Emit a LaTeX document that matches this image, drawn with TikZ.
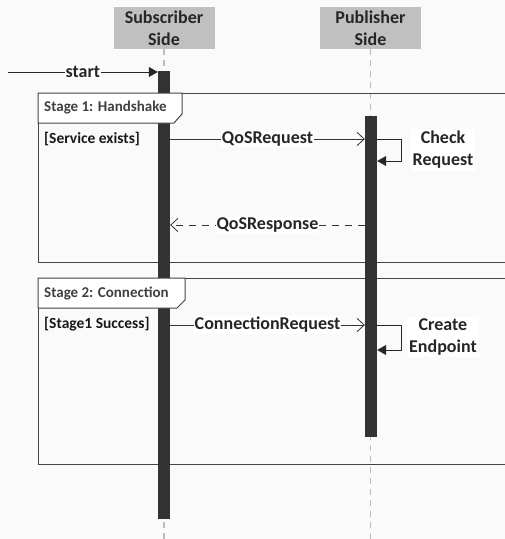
\documentclass[tikz,border=0pt]{standalone}
\usepackage{fontspec}
\setmainfont{Carlito}
\usetikzlibrary{arrows.meta}
\definecolor{bgcol}{HTML}{FAFAFA}
\definecolor{barcol}{HTML}{333333}
\definecolor{headcol}{HTML}{C0C0C0}
\definecolor{lifecol}{HTML}{BDBDBD}
\definecolor{framecol}{HTML}{444444}
\begin{document}
\begin{tikzpicture}[x=1pt, y=-1pt,
  head/.style={fill=headcol, minimum width=101pt, minimum height=42pt, inner sep=0pt, align=center, font=\fontsize{18}{22}\selectfont\bfseries, text=black!85},
  bar/.style={fill=barcol, minimum width=12pt, inner sep=0pt},
  life/.style={draw=lifecol, line width=1.5pt, dash pattern=on 6pt off 5pt},
  msg/.style={draw=black!80, line width=0.8pt, -{Straight Barb[length=7pt,width=13pt]}},
  reply/.style={msg, dash pattern=on 7pt off 6pt},
  call/.style={draw=black!85, line width=0.8pt, -{Triangle[length=9pt,width=10pt]}},
  lbl/.style={fill=white, inner sep=1pt, font=\fontsize{18}{20}\selectfont\bfseries, text=black!85},
  note/.style={fill=white, inner sep=2pt, align=center, font=\fontsize{18}{22}\selectfont\bfseries, text=black!85},
  guard/.style={anchor=west, inner sep=0pt, font=\fontsize{15.5}{18}\selectfont\bfseries, text=black!90},
  stagename/.style={anchor=west, inner sep=0pt, font=\fontsize{15}{18}\selectfont\bfseries, text=black!75},
  frame/.style={draw=framecol, line width=1pt},
  tag/.style={draw=framecol, line width=1pt, fill=white}]
\useasboundingbox[fill=bgcol] (0,0) rectangle (505,539);
\clip (0,0) rectangle (505,539);

\node[head] (sub) at (164,28) {Subscriber\\Side};
\node[head] (pub) at (370.5,28) {Publisher\\Side};
\coordinate (bottom) at (0,539);
\draw[life] (sub.south) -- (sub.south |- bottom);
\draw[life] (pub.south) -- (pub.south |- bottom);

\draw[frame] (510,93) -- (38,93) -- (38,262) -- (510,262);
\draw[frame] (510,278) -- (38,278) -- (38,464) -- (510,464);

\node[bar, minimum height=448pt] (sbar) at (164,295) {};
\node[bar, minimum height=321pt] (pbar) at (371,276.5) {};

\draw[tag] (38,93) -- (182,93) -- (182,114) -- (174,123) -- (38,123) -- cycle;
\node[stagename] (stage1) at (44,108) {Stage 1: Handshake};
\draw[tag] (38,278) -- (185,278) -- (185,300) -- (177,308) -- (38,308) -- cycle;
\node[stagename] (stage2) at (44,293) {Stage 2: Connection};

\coordinate (entry) at (8,72);
\draw[call] (entry) -- node[lbl]{start} (sbar.west |- entry);

\node[guard] (g1) at (44,139) {[Service exists]};
\coordinate (req) at (0,139);
\coordinate (chk) at (0,161);
\coordinate (resp) at (0,225);
\draw[msg] (sbar.east |- req) -- node[lbl]{QoSRequest} (pbar.west |- req);
\draw[call] (pbar.east |- req) -- ++(24,0) |- (pbar.east |- chk);
\node[note] (check) at (443,150) {Check\\Request};
\draw[reply] (pbar.west |- resp) -- node[lbl]{QoSResponse} (sbar.east |- resp);

\node[guard] (g2) at (44,324) {[Stage1 Success]};
\coordinate (conn) at (0,325);
\coordinate (ep) at (0,350);
\draw[msg] (sbar.east |- conn) -- node[lbl]{ConnectionRequest} (pbar.west |- conn);
\draw[call] (pbar.east |- conn) -- ++(24,0) |- (pbar.east |- ep);
\node[note] (create) at (443,337) {Create\\Endpoint};
\end{tikzpicture}
\end{document}
